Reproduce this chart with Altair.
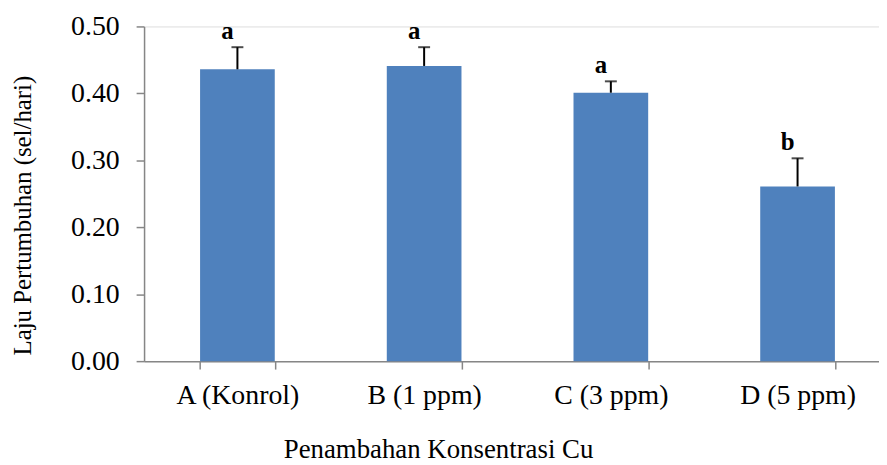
import altair as alt
import pandas as pd

categories = ["A (Konrol)", "B (1 ppm)", "C (3 ppm)", "D (5 ppm)"]
means = [0.436, 0.441, 0.401, 0.261]
errors = [0.033, 0.028, 0.017, 0.042]
letters = ["a", "a", "a", "b"]

df = pd.DataFrame({
    "cat": categories,
    "mean": means,
    "err": errors,
    "letter": letters,
})
df["top"] = df["mean"] + df["err"]

FONT = "Liberation Serif"
AXIS_COLOR = "#868686"

x_scale = alt.Scale(paddingInner=0.6, paddingOuter=0.3, range=[0, 752])

x_enc = alt.X(
    "cat:N",
    sort=categories,
    scale=x_scale,
    axis=alt.Axis(
        title="Penambahan Konsentrasi Cu",
        labelAngle=0,
        labelFont=FONT,
        labelFontSize=28,
        labelColor="black",
        labelPadding=13,
        titleFont=FONT,
        titleFontSize=27,
        titleFontWeight="normal",
        titleColor="black",
        titleX=296,
        titleY=89,
        titleBaseline="middle",
        titleAlign="center",
        tickBand="extent",
        tickSize=8,
        tickColor=AXIS_COLOR,
        domainColor=AXIS_COLOR,
        domainWidth=1.5,
        tickWidth=1.5,
        grid=False,
    ),
)

y_scale = alt.Scale(domain=[0, 0.5], nice=False)
y_enc = alt.Y(
    "mean:Q",
    scale=y_scale,
    axis=alt.Axis(
        title="Laju Pertumbuhan (sel/hari)",
        values=[0, 0.1, 0.2, 0.3, 0.4, 0.5],
        format=".2f",
        labelFont=FONT,
        labelFontSize=28,
        labelColor="black",
        labelPadding=17,
        titleFont=FONT,
        titleFontSize=25,
        titleFontWeight="normal",
        titleColor="black",
        titleAngle=-90,
        titleX=-122,
        titleY=190,
        titleAlign="center",
        titleBaseline="middle",
        tickSize=8,
        tickColor=AXIS_COLOR,
        domainColor=AXIS_COLOR,
        domainWidth=1.5,
        tickWidth=1.5,
        grid=False,
    ),
)

base = alt.Chart(df)

bars = base.mark_bar(color="#4F81BD").encode(x=x_enc, y=y_enc)

err_rule = base.mark_rule(color="black", strokeWidth=2).encode(
    x=alt.X("cat:N", sort=categories),
    y=alt.Y("mean:Q", scale=y_scale),
    y2="top:Q",
)

err_cap = base.mark_tick(color="black", thickness=2, size=12, orient="horizontal").encode(
    x=alt.X("cat:N", sort=categories),
    y=alt.Y("top:Q", scale=y_scale),
)

labels = base.mark_text(
    font=FONT, fontSize=25, fontWeight="bold", color="black",
    baseline="alphabetic", dy=-8, dx=-10,
).encode(
    x=alt.X("cat:N", sort=categories),
    y=alt.Y("top:Q", scale=y_scale),
    text="letter:N",
)

chart = (
    alt.layer(bars, err_rule, err_cap, labels)
    .properties(
        width=740,
        height=337,
        autosize=alt.AutoSizeParams(type="none"),
        padding={"left": 137, "top": 17, "right": 0, "bottom": 102},
    )
    .configure_view(stroke=None)
    .configure(background="white")
)

chart.save("out.html", embed_options={"renderer": "svg", "actions": False})
